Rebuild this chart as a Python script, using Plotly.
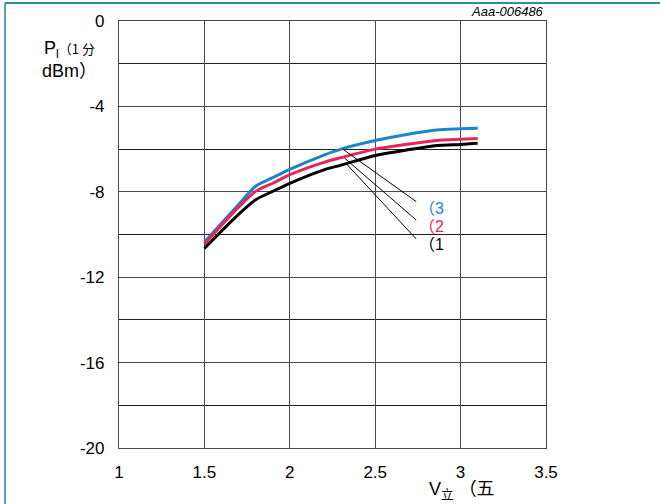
import plotly.graph_objects as go

# ---- data ----
x_vals = [1.5, 1.7, 1.8, 1.9, 2.0, 2.2, 2.3, 2.5, 2.7, 2.86, 3.0, 3.1]
curve3 = [-10.35, -8.6, -7.74, -7.34, -6.95, -6.28, -6.0, -5.6, -5.29, -5.1, -5.05, -5.02]
curve2 = [-10.45, -8.72, -7.98, -7.6, -7.2, -6.62, -6.4, -6.0, -5.76, -5.6, -5.54, -5.5]
curve1 = [-10.65, -9.06, -8.37, -7.98, -7.6, -6.97, -6.75, -6.3, -6.02, -5.83, -5.78, -5.73]
series_names = ["（3", "（2", "（1"]
series_colors = ["#1a86c8", "#e8245a", "#000000"]

# callout leader lines
leader_start_x = [2.31, 2.32, 2.33]
leader_start_y = [-6.0, -6.42, -6.68]
leader_end_x = [2.74, 2.74, 2.74]
leader_end_y = [-8.46, -9.32, -10.21]
label_y = [-8.72, -9.55, -10.4]

x_ticks = [1, 1.5, 2, 2.5, 3, 3.5]
x_tick_text = ["1", "1.5", "2", "2.5", "3", "3.5"]
y_ticks = [0, -4, -8, -12, -16, -20]
y_tick_text = ["0", "-4", "-8", "-12", "-16", "-20"]

FONT = "'Liberation Sans', Arial, sans-serif"
MIX = "'Liberation Sans', 'Noto Sans CJK SC', sans-serif"

fig = go.Figure()
for ys, name, col in zip([curve3, curve2, curve1], series_names, series_colors):
    fig.add_trace(go.Scatter(x=x_vals, y=ys, mode="lines", name=name,
                             line=dict(color=col, width=3, shape="spline", smoothing=0.8),
                             showlegend=False, hoverinfo="skip"))

for sx, sy, ex, ey in zip(leader_start_x, leader_start_y, leader_end_x, leader_end_y):
    fig.add_trace(go.Scatter(x=[sx, ex], y=[sy, ey], mode="lines",
                             line=dict(color="#000000", width=1),
                             showlegend=False, hoverinfo="skip"))

for name, col, ly in zip(series_names, series_colors, label_y):
    fig.add_annotation(x=2.745, y=ly, xref="x", yref="y",
                       text="<span style='font-family:\"Noto Sans CJK SC\"'>（</span>" + name[1:],
                       showarrow=False, xanchor="left", yanchor="middle",
                       font=dict(family=MIX, size=16, color=col))

# layout geometry
W, H = 660, 504
L, R, T, B = 119, 114, 21, 56
pw, ph = W - L - R, H - T - B

def px(xp):
    return (xp - L) / pw

def py(yp):
    return (H - B - yp) / ph

fig.add_annotation(x=px(546), y=py(12), xref="paper", yref="paper", text="<i>Aaa-006486</i>",
                   showarrow=False, xanchor="right", yanchor="middle",
                   font=dict(family=FONT, size=13, color="#000"))
fig.add_annotation(x=px(69), y=py(60), xref="paper", yref="paper",
                   text="P<sub>l</sub><span style='font-size:13px;font-family:\"Noto Sans CJK SC\"'>（1 分</span><br>dBm<span style='font-family:\"Noto Sans CJK SC\"'>）</span>",
                   showarrow=False, xanchor="center", yanchor="middle", align="center",
                   font=dict(family=MIX, size=18, color="#000"))
fig.add_annotation(x=px(462), y=py(488), xref="paper", yref="paper",
                   text="V<sub>立</sub> <span style='font-family:\"Noto Sans CJK SC\"'>（五</span>",
                   showarrow=False, xanchor="center", yanchor="middle",
                   font=dict(family=MIX, size=18, color="#000"))

# teal frame lines (top and left)
fig.add_shape(type="line", xref="paper", yref="paper", x0=px(5), x1=px(660), y0=py(3), y1=py(3),
              line=dict(color="#2a8fa5", width=2))
fig.add_shape(type="line", xref="paper", yref="paper", x0=px(5), x1=px(5), y0=py(3), y1=py(504),
              line=dict(color="#5aa8bc", width=2))

fig.update_layout(
    width=W, height=H, margin=dict(l=L, r=R, t=T, b=B),
    paper_bgcolor="white", plot_bgcolor="white",
    font=dict(family=FONT, size=17, color="#000"),
    xaxis=dict(range=[1, 3.5], tickvals=x_ticks, ticktext=x_tick_text, showgrid=True,
               gridcolor="#4a4a4a", gridwidth=1.2,
               showline=True, mirror=True, linecolor="#4a4a4a", linewidth=1.2, zeroline=False,
               ticks="", ticklabelstandoff=8, tickfont=dict(size=17)),
    yaxis=dict(range=[-20, 0], tickvals=y_ticks, ticktext=y_tick_text, showgrid=True,
               gridcolor="#4a4a4a", gridwidth=1.2,
               minor=dict(dtick=2, tick0=0, showgrid=True, gridcolor="#222", gridwidth=1),
               showline=True, mirror=True, linecolor="#4a4a4a", linewidth=1.2, zeroline=False,
               ticks="", ticklabelstandoff=10, tickfont=dict(size=17)),
)

fig.write_html("out.html")
